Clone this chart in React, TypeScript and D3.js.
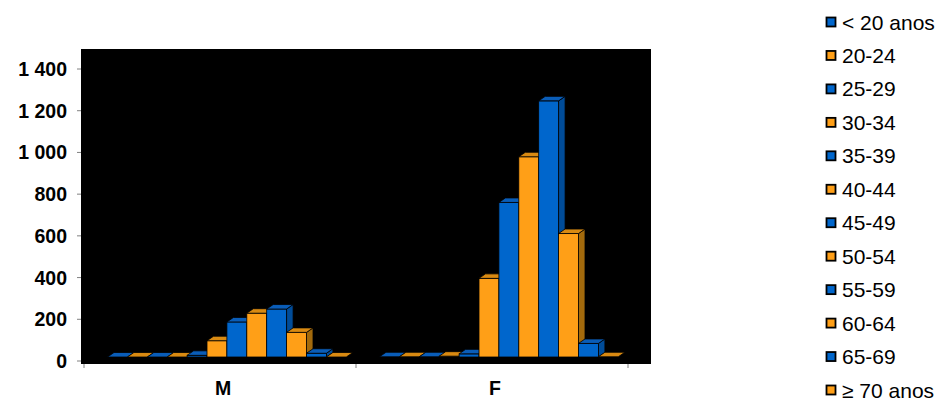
import React from 'react';
import * as d3 from 'd3';

const categories = ['M', 'F'];
const ageGroups = ['< 20 anos', '20-24', '25-29', '30-34', '35-39', '40-44', '45-49', '50-54', '55-59', '60-64', '65-69', '≥ 70 anos'];
const valuesM = [0, 0, 0, 0, 8, 78, 168, 210, 230, 118, 18, 0];
const valuesF = [1, 1, 1, 4, 15, 377, 741, 960, 1228, 592, 65, 1];
const yTicks = [0, 200, 400, 600, 800, 1000, 1200, 1400];

const BLUE = { front: '#0066CC', top: '#0A5DB8', side: '#004C99' };
const ORANGE = { front: '#FF9F17', top: '#D98A12', side: '#A36A0C' };

const W = 940;
const H = 401;
const FONT = '"Liberation Sans", Arial, sans-serif';

export default function App() {
  const x = d3.scaleBand<string>().domain(categories).range([84, 628]).padding(0);
  const inner = d3.scaleBand<string>().domain(ageGroups).range([23.5, 262.3]).padding(0);
  const y = d3.scaleLinear().domain([0, 1400]).range([361, 69]);
  const fmt = d3.formatLocale({ decimal: ',', thousands: ' ', grouping: [3], currency: ['', ''] }).format(',d');

  const baseShift = -4; // bars sit a little behind the front axis
  const ddx = 6.5;
  const ddy = -4.5;

  const series: Record<string, number[]> = { M: valuesM, F: valuesF };

  const bars: React.ReactNode[] = [];
  categories.forEach((cat) => {
    const vals = series[cat];
    ageGroups.forEach((g, i) => {
      const c = i % 2 === 0 ? BLUE : ORANGE;
      const x0 = (x(cat) as number) + (inner(g) as number);
      const x1 = x0 + inner.bandwidth();
      const yb = y(0) + baseShift;
      const yt = y(vals[i]) + baseShift;
      const top = `M${x0},${yt}L${x0 + ddx},${yt + ddy}L${x1 + ddx},${yt + ddy}L${x1},${yt}Z`;
      const side = `M${x1},${yt}L${x1 + ddx},${yt + ddy}L${x1 + ddx},${yb + ddy}L${x1},${yb}Z`;
      bars.push(
        <g key={cat + i}>
          {yb - yt > 0.5 && (
            <path d={side} fill={c.side} stroke="#000" strokeWidth={0.8} strokeLinejoin="round" />
          )}
          {yb - yt > 0.5 && (
            <rect x={x0} y={yt} width={x1 - x0} height={yb - yt} fill={c.front} stroke="#000" strokeWidth={0.8} />
          )}
          <path d={top} fill={c.top} stroke="#000" strokeWidth={0.8} strokeLinejoin="round" />
        </g>
      );
    });
  });

  const legendY = d3.scaleLinear().domain([0, ageGroups.length - 1]).range([22, 390]);

  return (
    <svg width={W} height={H} style={{ position: 'absolute', left: 0, top: 0, background: '#fff' }}>
      <rect x={81} y={49} width={570} height={315} fill="#000" />
      {bars}
      {yTicks.map((t) => (
        <g key={t}>
          <line x1={77} x2={81} y1={y(t)} y2={y(t)} stroke="#808080" strokeWidth={1} />
          <text x={67} y={y(t)} dy="0.36em" textAnchor="end" fontFamily={FONT} fontWeight="bold" fontSize={19.5} fill="#000">
            {fmt(t)}
          </text>
        </g>
      ))}
      {[...categories.map((c) => x(c) as number), 628].map((tx, i) => (
        <line key={i} x1={tx} x2={tx} y1={364} y2={368} stroke="#808080" strokeWidth={1} />
      ))}
      {categories.map((c) => (
        <text key={c} x={(x(c) as number) + x.bandwidth() / 2 + 3} y={388} dy="0.36em" textAnchor="middle" fontFamily={FONT} fontWeight="bold" fontSize={19.5} fill="#000">
          {c}
        </text>
      ))}
      {ageGroups.map((g, i) => {
        const cy = legendY(i);
        const c = i % 2 === 0 ? BLUE : ORANGE;
        return (
          <g key={g}>
            <rect x={826.5} y={cy - 4.5} width={9} height={9} fill={c.front} stroke="#000" strokeWidth={1.8} />
            <text x={842} y={cy} dy="0.36em" fontFamily={FONT} fontSize={21} fill="#000">
              {g}
            </text>
          </g>
        );
      })}
    </svg>
  );
}
